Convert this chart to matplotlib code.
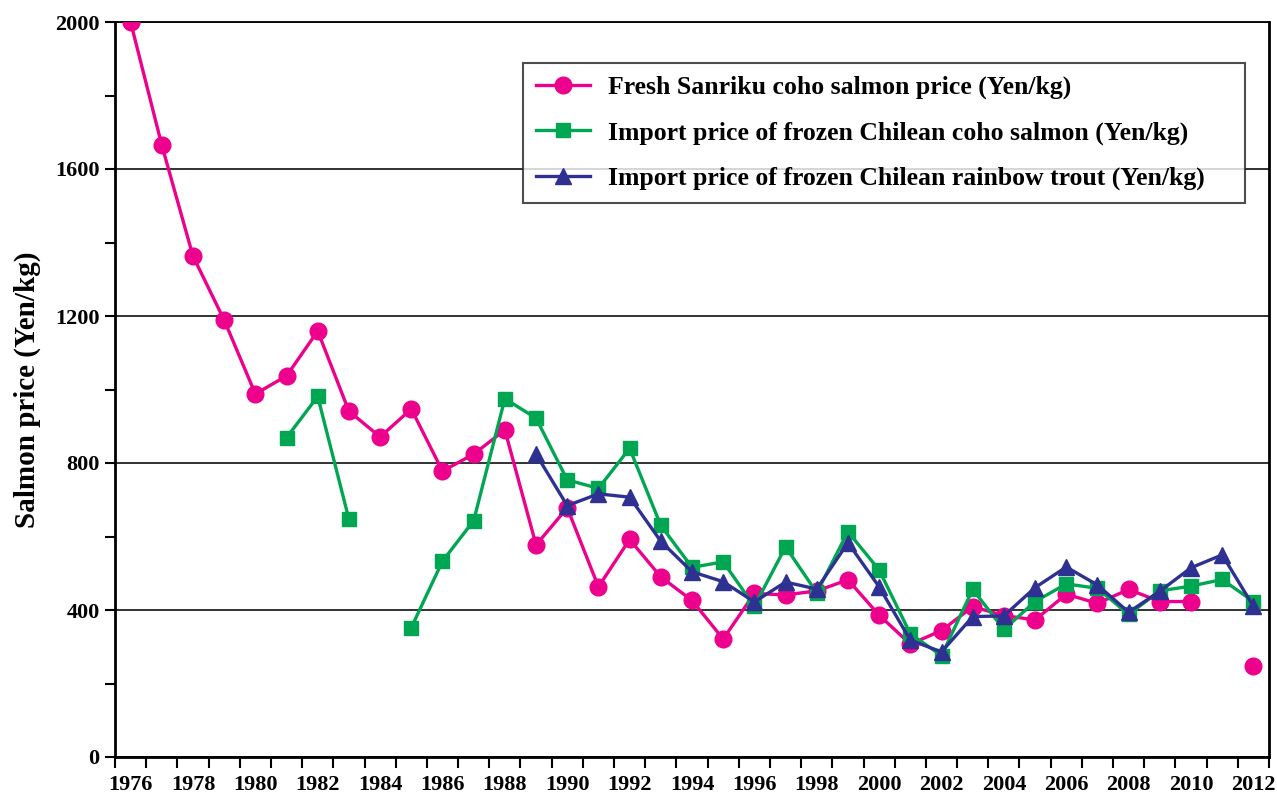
import numpy as np
import matplotlib
matplotlib.use("Agg")
import matplotlib.pyplot as plt
from matplotlib.ticker import FixedLocator

plt.rcParams['font.family'] = ['Liberation Serif', 'DejaVu Serif']
plt.rcParams['font.weight'] = 'bold'

nan = np.nan
years = list(range(1976, 2013))

# Fresh Sanriku coho salmon price (Yen/kg)
sanriku = [2000, 1665, 1363, 1189, 988, 1037, 1159, 941, 871, 947,
           778, 824, 890, 577, 678, 463, 592, 490, 426, 321,
           445, 441, 452, 482, 386, 307, 344, 409, 385, 373,
           443, 418, 456, 423, 423, nan, 248]

# Import price of frozen Chilean coho salmon (Yen/kg)
coho = [nan, nan, nan, nan, nan, 869, 981, 647, nan, 352,
        533, 643, 975, 922, 754, 731, 840, 630, 516, 531,
        410, 572, 447, 613, 509, 335, 276, 456, 347, 423,
        471, 459, 388, 452, 465, 483, 423]

# Import price of frozen Chilean rainbow trout (Yen/kg)
trout = [nan, nan, nan, nan, nan, nan, nan, nan, nan, nan,
         nan, nan, nan, 824, 684, 716, 707, 587, 504, 477,
         422, 476, 457, 583, 463, 318, 286, 382, 384, 461,
         517, 468, 394, 451, 515, 550, 410]

pink = '#EC008C'
green = '#00A651'
blue = '#2E3192'

fig = plt.figure(figsize=(12.77, 7.95), dpi=100)
ax = fig.add_axes([115/1277, 38/795, 1154/1277, 735/795])

ax.plot(years, sanriku, color=pink, lw=2.4, marker='o', ms=12,
        label='Fresh Sanriku coho salmon price (Yen/kg)', zorder=3)
ax.plot(years, coho, color=green, lw=2.4, marker='s', ms=9.5,
        label='Import price of frozen Chilean coho salmon (Yen/kg)', zorder=4)
ax.plot(years, trout, color=blue, lw=2.4, marker='^', ms=11.5,
        label='Import price of frozen Chilean rainbow trout (Yen/kg)', zorder=5)

ax.set_xlim(1975.5, 2012.5)
ax.set_ylim(0, 2000)

ax.set_xticks(range(1976, 2013, 2))
ax.xaxis.set_minor_locator(FixedLocator(np.arange(1975.5, 2013, 1)))
ax.tick_params(axis='x', which='major', length=0, pad=13, labelsize=16)
ax.tick_params(axis='x', which='minor', length=8, width=1.5, direction='out')

ax.set_yticks(range(0, 2001, 400))
ax.yaxis.set_minor_locator(FixedLocator(range(200, 2000, 400)))
ax.tick_params(axis='y', which='major', length=7, width=1.5, direction='out', pad=4, labelsize=16)
ax.tick_params(axis='y', which='minor', length=7, width=1.5, direction='out')

ax.yaxis.grid(True, which='major', color='#222222', lw=1.3)
ax.set_axisbelow(True)

for s in ['left', 'bottom', 'right']:
    ax.spines[s].set_linewidth(2)
ax.spines['top'].set_linewidth(1.3)

ax.set_ylabel('Salmon price (Yen/kg)', fontsize=21, fontweight='bold', labelpad=10)

# legend box spans x 523..1245 px, top at 63 px
leg = ax.legend(loc='upper left',
                bbox_to_anchor=((523 - 115)/1154, 0, (1245 - 523)/1154, 1 - 41/735),
                mode='expand', fontsize=18.5, frameon=True, fancybox=False,
                edgecolor='#222222', handlelength=2.1, handletextpad=0.7,
                borderpad=0.5, labelspacing=0.86, borderaxespad=0)
leg.get_frame().set_linewidth(1.5)

fig.savefig('out.png', dpi=100)
